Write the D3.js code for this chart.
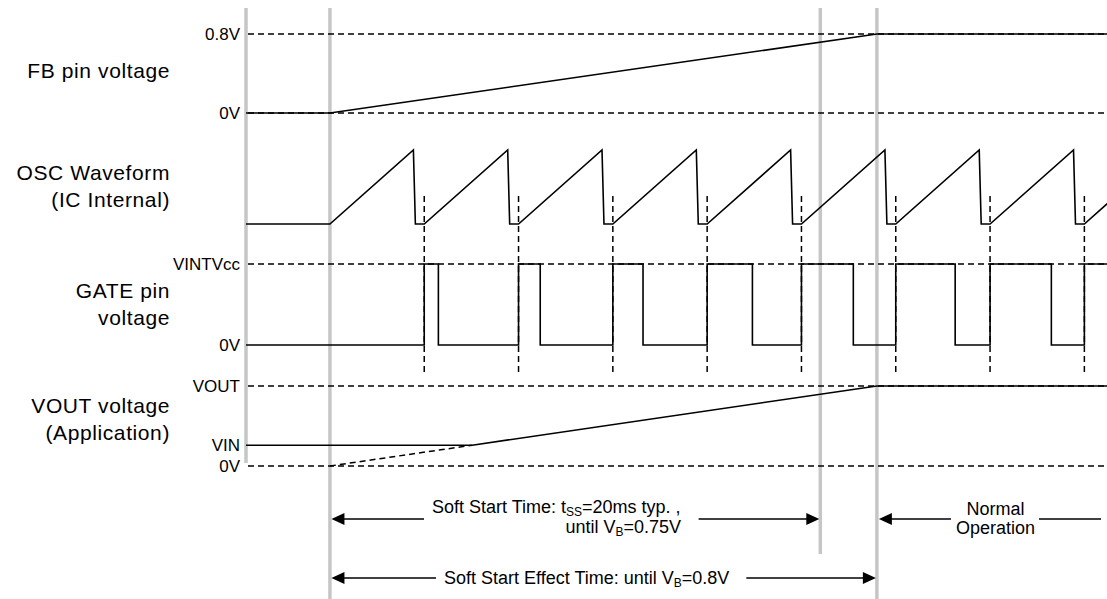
<!DOCTYPE html>
<html>
<head>
<meta charset="UTF-8">
<title>Soft start timing</title>
<script src="https://d3js.org/d3.v7.min.js"></script>
<style>
  body { margin: 0; background: #fff; }
  text { font-family: "Liberation Sans", Arial, sans-serif; fill: #000; }
</style>
</head>
<body>
<svg id="chart"></svg>
<script>
// time is counted in oscillator periods, t = 0 is where soft start begins
const markerTimes = [-0.89, 0, 5.2, 5.8];          // gray vertical guides
const oscStarts = [0, 1, 2, 3, 4, 5, 6, 7, 8];      // start of each OSC ramp
const oscRampEnd = 0.885;                           // peak, fraction of period
const oscFallEnd = 0.906;                           // back at bottom
const gateStarts = [1, 2, 3, 4, 5, 6, 7, 8];
const gateDuty = [0.15, 0.23, 0.32, 0.48, 0.55, 0.63, 0.65, 0.65];
const fbPoints = [[-0.89, 0], [0, 0], [5.8, 0.8], [8.24, 0.8]];
const vinLevel = 0.26, voutLevel = 1;
const voutRamp = [[0, 0], [5.8, voutLevel]];

const rowNames = [["FB pin voltage"], ["OSC Waveform", "(IC Internal)"],
                  ["GATE pin", "voltage"], ["VOUT voltage", "(Application)"]];
const fbTicks = [{v: 0.8, label: "0.8V"}, {v: 0, label: "0V"}];
const gateTicks = [{v: 1, label: "VINTVcc"}, {v: 0, label: "0V"}];
const voutTicks = [{v: voutLevel, label: "VOUT"}, {v: vinLevel, label: "VIN"}, {v: 0, label: "0V"}];

const width = 1107, height = 599;
const svg = d3.select("#chart").attr("width", width).attr("height", height);

const x = d3.scaleLinear().domain([-0.89, 8.24]).range([246, 1107]);
const yFB = d3.scaleLinear().domain([0, 0.8]).range([113, 34]);
const yOSC = d3.scaleLinear().domain([0, 1]).range([224, 150]);
const yGATE = d3.scaleLinear().domain([0, 1]).range([345, 264]);
const yVOUT = d3.scaleLinear().domain([0, 1]).range([466, 386]);

const line = d3.line().x(d => x(d[0]));
const dash = "6,4";

// gray guide lines
const guideBottoms = [463, 599, 554, 599];
svg.append("g").selectAll("line").data(markerTimes).join("line")
  .attr("x1", d => x(d)).attr("x2", d => x(d))
  .attr("y1", 8).attr("y2", (d, i) => guideBottoms[i])
  .attr("stroke", "#c6c6c6").attr("stroke-width", 3.5);

// left row titles
const titleY = [[78], [180, 207], [298, 325], [413, 440]];
rowNames.forEach((names, i) => {
  names.forEach((n, j) => {
    svg.append("text").attr("x", 170).attr("y", titleY[i][j])
      .attr("text-anchor", "end").attr("font-size", 21)
      .attr("letter-spacing", 0.6).text(n);
  });
});

// level labels + dashed references
function levels(ticks, y) {
  ticks.forEach(t => {
    svg.append("text").attr("x", 240).attr("y", y(t.v)).attr("dy", "0.35em")
      .attr("text-anchor", "end").attr("font-size", 17).text(t.label);
  });
}
levels(fbTicks, yFB);
levels(gateTicks, yGATE);
levels(voutTicks, yVOUT);

const refs = [[yFB, 0.8], [yFB, 0], [yGATE, 1], [yVOUT, voutLevel], [yVOUT, 0]];
refs.forEach(([y, v]) => {
  svg.append("line").attr("x1", x(-0.89) + 2).attr("x2", width)
    .attr("y1", y(v)).attr("y2", y(v))
    .attr("stroke", "#000").attr("stroke-width", 1.5).attr("stroke-dasharray", dash);
});

const solid = g => g.attr("fill", "none").attr("stroke", "#000").attr("stroke-width", 1.6);

// FB
svg.append("path").attr("d", line.y(d => yFB(d[1]))(fbPoints)).call(solid);

// OSC sawtooth
const osc = [[-0.89, 0]];
oscStarts.forEach(s => {
  osc.push([s, 0], [s + oscRampEnd, 1], [s + oscFallEnd, 0], [s + 1, 0]);
});
svg.append("path").attr("d", line.y(d => yOSC(d[1]))(osc)).call(solid);

// sync dashed verticals
svg.append("g").selectAll("line").data(gateStarts).join("line")
  .attr("x1", d => x(d)).attr("x2", d => x(d))
  .attr("y1", 196).attr("y2", 375)
  .attr("stroke", "#000").attr("stroke-width", 1.5).attr("stroke-dasharray", dash);

// GATE
const gate = [[-0.89, 0]];
gateStarts.forEach((s, i) => {
  gate.push([s, 0], [s, 1], [s + gateDuty[i], 1], [s + gateDuty[i], 0]);
});
svg.append("path").attr("d", line.y(d => yGATE(d[1]))(gate)).call(solid);

// VOUT: ramp dashed below VIN, solid above
const slope = (voutRamp[1][1] - voutRamp[0][1]) / (voutRamp[1][0] - voutRamp[0][0]);
const tCross = voutRamp[0][0] + vinLevel / slope;
svg.append("path").attr("d", line.y(d => yVOUT(d[1]))([voutRamp[0], [tCross, vinLevel]]))
  .call(solid).attr("stroke-width", 1.5).attr("stroke-dasharray", dash);
svg.append("path")
  .attr("d", line.y(d => yVOUT(d[1]))([[-0.89, vinLevel], [tCross, vinLevel], voutRamp[1], [8.24, voutLevel]]))
  .call(solid);

// annotations
function arrowHead(tipX, y, dir) {
  const L = 13, H = 6;
  svg.append("path")
    .attr("d", `M${tipX},${y}L${tipX - dir * L},${y - H}L${tipX - dir * L},${y + H}Z`)
    .attr("fill", "#000");
}
function hline(x1, x2, y) {
  svg.append("line").attr("x1", x1).attr("x2", x2).attr("y1", y).attr("y2", y)
    .attr("stroke", "#000").attr("stroke-width", 1.6);
}

// row 1 : soft start time
{
  const y = 519;
  const g = svg.append("g").attr("font-size", 18);
  const t1 = g.append("text").attr("x", 432).attr("y", 513);
  t1.append("tspan").text("Soft Start Time: t");
  t1.append("tspan").attr("font-size", 12).attr("dy", 3).text("SS");
  t1.append("tspan").attr("dy", -3).text("=20ms typ. ,");
  const t2 = g.append("text").attr("x", 681).attr("y", 533).attr("text-anchor", "end");
  t2.append("tspan").text("until V");
  t2.append("tspan").attr("font-size", 12).attr("dy", 3).text("B");
  t2.append("tspan").attr("dy", -3).text("=0.75V");
  const bb = t1.node().getBBox();
  const a = x(markerTimes[1]) + 1.5, b = x(markerTimes[2]) - 1;
  arrowHead(a, y, -1); hline(a + 12, bb.x - 8, y);
  arrowHead(b, y, 1); hline(bb.x + bb.width + 18, b - 12, y);
}
// row 2 : soft start effect time
{
  const y = 578;
  const t = svg.append("text").attr("font-size", 18).attr("x", 444).attr("y", 584);
  t.append("tspan").text("Soft Start Effect Time: until V");
  t.append("tspan").attr("font-size", 12).attr("dy", 3).text("B");
  t.append("tspan").attr("dy", -3).text("=0.8V");
  const bb = t.node().getBBox();
  const a = x(markerTimes[1]) + 1.5, b = x(markerTimes[3]) - 1;
  arrowHead(a, y, -1); hline(a + 12, bb.x - 8, y);
  arrowHead(b, y, 1); hline(bb.x + bb.width + 17, b - 12, y);
}
// normal operation
{
  const y = 519;
  const g = svg.append("g").attr("font-size", 18).attr("text-anchor", "middle");
  g.append("text").attr("x", 995.5).attr("y", 515).text("Normal");
  const t2 = g.append("text").attr("x", 995.5).attr("y", 534).text("Operation");
  const bb = t2.node().getBBox();
  const a = x(markerTimes[3]) + 2;
  arrowHead(a, y, -1); hline(a + 12, bb.x - 5, y);
  hline(bb.x + bb.width + 4, width - 6, y);
}
</script>
</body>
</html>
